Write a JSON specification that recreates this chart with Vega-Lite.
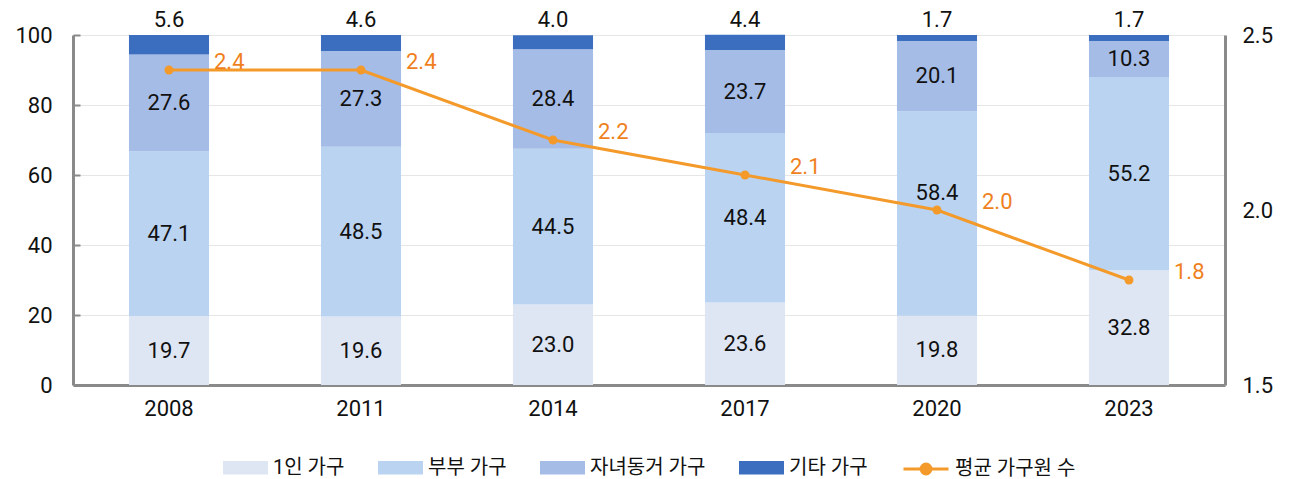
{
  "$schema": "https://vega.github.io/schema/vega-lite/v6.json",
  "width": 1152,
  "height": 350,
  "autosize": {"type": "none"},
  "padding": {"left": 73, "top": 35, "right": 69, "bottom": 94},
  "background": "white",
  "config": {
    "font": "Roboto, Noto Sans CJK KR, sans-serif",
    "view": {"stroke": null},
    "legend": {"layout": {"bottom": {"anchor": "middle", "direction": "horizontal", "margin": 34}}}
  },
  "datasets": {
    "bars": [
      {"year": "2008", "type": "1인 가구", "order": 1, "value": 19.7},
      {"year": "2008", "type": "부부 가구", "order": 2, "value": 47.1},
      {"year": "2008", "type": "자녀동거 가구", "order": 3, "value": 27.6},
      {"year": "2008", "type": "기타 가구", "order": 4, "value": 5.6},
      {"year": "2011", "type": "1인 가구", "order": 1, "value": 19.6},
      {"year": "2011", "type": "부부 가구", "order": 2, "value": 48.5},
      {"year": "2011", "type": "자녀동거 가구", "order": 3, "value": 27.3},
      {"year": "2011", "type": "기타 가구", "order": 4, "value": 4.6},
      {"year": "2014", "type": "1인 가구", "order": 1, "value": 23.0},
      {"year": "2014", "type": "부부 가구", "order": 2, "value": 44.5},
      {"year": "2014", "type": "자녀동거 가구", "order": 3, "value": 28.4},
      {"year": "2014", "type": "기타 가구", "order": 4, "value": 4.0},
      {"year": "2017", "type": "1인 가구", "order": 1, "value": 23.6},
      {"year": "2017", "type": "부부 가구", "order": 2, "value": 48.4},
      {"year": "2017", "type": "자녀동거 가구", "order": 3, "value": 23.7},
      {"year": "2017", "type": "기타 가구", "order": 4, "value": 4.4},
      {"year": "2020", "type": "1인 가구", "order": 1, "value": 19.8},
      {"year": "2020", "type": "부부 가구", "order": 2, "value": 58.4},
      {"year": "2020", "type": "자녀동거 가구", "order": 3, "value": 20.1},
      {"year": "2020", "type": "기타 가구", "order": 4, "value": 1.7},
      {"year": "2023", "type": "1인 가구", "order": 1, "value": 32.8},
      {"year": "2023", "type": "부부 가구", "order": 2, "value": 55.2},
      {"year": "2023", "type": "자녀동거 가구", "order": 3, "value": 10.3},
      {"year": "2023", "type": "기타 가구", "order": 4, "value": 1.7}
    ],
    "avg": [
      {"year": "2008", "avg": 2.4},
      {"year": "2011", "avg": 2.4},
      {"year": "2014", "avg": 2.2},
      {"year": "2017", "avg": 2.1},
      {"year": "2020", "avg": 2.0},
      {"year": "2023", "avg": 1.8}
    ]
  },
  "encoding": {
    "x": {
      "field": "year", "type": "nominal",
      "scale": {"paddingInner": 0.583, "paddingOuter": 0.2915},
      "axis": {
        "title": null, "labelAngle": 0, "ticks": false, "labelFontSize": 22,
        "labelColor": "#111", "labelPadding": 13, "domainColor": "#8a8a8a", "domainWidth": 3
      }
    }
  },
  "layer": [
    {
      "layer": [
        {
          "data": {"name": "bars"},
          "mark": {"type": "bar"},
          "encoding": {
            "y": {
              "field": "value", "type": "quantitative", "stack": "zero",
              "scale": {"domain": [0, 100]},
              "axis": {
                "title": null, "values": [0, 20, 40, 60, 80, 100], "labelFontSize": 22,
                "labelColor": "#111", "labelPadding": 28, "tickSize": -7, "tickColor": "#8a8a8a", "tickWidth": 2,
                "grid": true, "gridColor": "#e6e6e6", "gridWidth": 1,
                "domainColor": "#8a8a8a", "domainWidth": 3
              }
            },
            "order": {"field": "order", "type": "quantitative", "sort": "ascending"},
            "fill": {
              "field": "type", "type": "nominal",
              "scale": {
                "domain": ["1인 가구", "부부 가구", "자녀동거 가구", "기타 가구"],
                "range": ["#dfe6f3", "#b9d3f1", "#a5bce7", "#3c6ec0"]
              },
              "legend": {
                "title": null, "orient": "bottom", "direction": "horizontal",
                "symbolType": "M-1,-0.3H1V0.3H-1Z", "symbolSize": 2025,
                "symbolStrokeWidth": 0, "labelFontSize": 20, "labelColor": "#111",
                "labelOffset": 5, "columnPadding": 33, "offset": 26
              }
            }
          }
        },
        {
          "data": {"name": "bars"},
          "transform": [
            {"stack": "value", "groupby": ["year"], "sort": [{"field": "order"}], "as": ["v0", "v1"]},
            {"filter": "datum.type !== '기타 가구' && !(datum.year === '2020' && datum.type === '부부 가구')"},
            {"fold": ["v0", "v1"], "as": ["k", "v"]},
            {"aggregate": [{"op": "mean", "field": "v", "as": "mid"}], "groupby": ["year", "type", "value"]}
          ],
          "mark": {"type": "text", "fontSize": 22, "color": "#111", "baseline": "middle"},
          "encoding": {
            "y": {"field": "mid", "type": "quantitative"},
            "text": {"field": "value", "type": "quantitative", "format": ".1f"}
          }
        },
        {
          "data": {"name": "bars"},
          "transform": [
            {"stack": "value", "groupby": ["year"], "sort": [{"field": "order"}], "as": ["v0", "v1"]},
            {"filter": "datum.year === '2020' && datum.type === '부부 가구'"},
            {"fold": ["v0", "v1"], "as": ["k", "v"]},
            {"aggregate": [{"op": "mean", "field": "v", "as": "mid"}], "groupby": ["year", "type", "value"]}
          ],
          "mark": {"type": "text", "fontSize": 22, "color": "#111", "baseline": "middle", "dy": -21},
          "encoding": {
            "y": {"field": "mid", "type": "quantitative"},
            "text": {"field": "value", "type": "quantitative", "format": ".1f"}
          }
        },
        {
          "data": {"name": "bars"},
          "transform": [
            {"stack": "value", "groupby": ["year"], "sort": [{"field": "order"}], "as": ["v0", "v1"]},
            {"filter": "datum.type === '기타 가구'"}
          ],
          "mark": {"type": "text", "fontSize": 22, "color": "#111", "baseline": "bottom", "dy": -3},
          "encoding": {
            "y": {"field": "v1", "type": "quantitative"},
            "text": {"field": "value", "type": "quantitative", "format": ".1f"}
          }
        }
      ]
    },
    {
      "data": {"name": "avg"},
      "layer": [
        {
          "mark": {"type": "line", "strokeWidth": 3},
          "encoding": {
            "y": {
              "field": "avg", "type": "quantitative",
              "scale": {"domain": [1.5, 2.5]},
              "axis": {
                "title": null, "orient": "right", "values": [1.5, 2.0, 2.5], "format": ".1f",
                "labelFontSize": 22, "labelColor": "#111", "labelPadding": 17, "ticks": false,
                "grid": false, "domainColor": "#8a8a8a", "domainWidth": 3
              }
            },
            "stroke": {
              "datum": "평균 가구원 수",
              "scale": {"domain": ["평균 가구원 수"], "range": ["#f39a2b"]},
              "legend": {
                "title": null, "orient": "bottom", "direction": "horizontal",
                "symbolType": "M-1,0H1M-0.22,0A0.22,0.22,0,1,0,0.22,0A0.22,0.22,0,1,0,-0.22,0Z",
                "symbolSize": 2025, "symbolStrokeWidth": 3, "symbolFillColor": "#f39a2b",
                "labelFontSize": 20, "labelColor": "#111", "labelOffset": 5, "offset": 26
              }
            }
          }
        },
        {
          "mark": {"type": "circle", "size": 80, "color": "#f39a2b", "opacity": 1},
          "encoding": {"y": {"field": "avg", "type": "quantitative"}}
        },
        {
          "mark": {"type": "text", "fontSize": 22, "color": "#f07f1d", "align": "left", "dx": 45, "dy": -8},
          "encoding": {
            "y": {"field": "avg", "type": "quantitative"},
            "text": {"field": "avg", "type": "quantitative", "format": ".1f"}
          }
        }
      ]
    }
  ],
  "resolve": {"scale": {"y": "independent"}}
}
